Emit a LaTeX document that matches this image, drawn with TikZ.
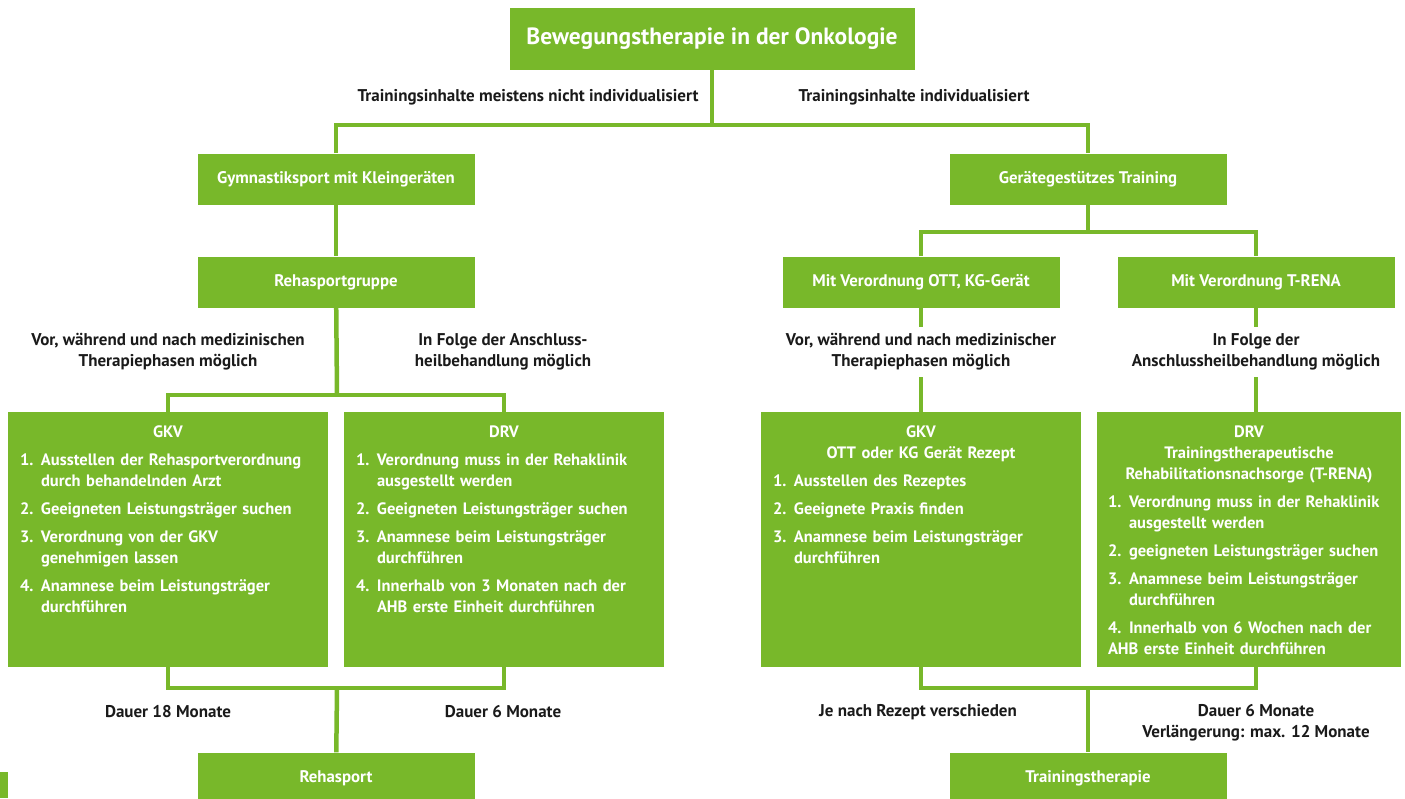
\documentclass[tikz,border=0pt]{standalone}
\usepackage{fontspec}
\setmainfont{PT Sans}
\usetikzlibrary{positioning}
\definecolor{bwgreen}{RGB}{120,184,42}
\definecolor{notetext}{RGB}{26,26,26}

\newcommand{\boxhead}[1]{\setlength{\parskip}{7pt}{\centering #1\par}}
\newcommand{\boxitem}[2]{\hangindent=21pt\hangafter=1\noindent\makebox[21pt][l]{#1}#2\par}

\tikzset{
  stage/.style={fill=bwgreen, text=white, font=\bfseries\fontsize{16.8}{20}\selectfont,
    minimum width=277pt, minimum height=51pt, inner sep=0pt},
  headline/.style={stage, font=\bfseries\fontsize{23.5}{28}\selectfont,
    minimum width=405pt, minimum height=62pt},
  panel/.style={fill=bwgreen, minimum width=320pt, minimum height=255pt, inner sep=0pt},
  steps/.style={text=white, font=\bfseries\fontsize{16.5}{21}\selectfont,
    text width=296pt, align=left, anchor=north, inner sep=0pt},
  remark/.style={text=notetext, font=\bfseries\fontsize{17}{21}\selectfont, align=center},
  gap/.style={fill=white, inner xsep=4pt, inner ysep=7pt},
  link/.style={draw=bwgreen, line width=4.5pt},
}

\begin{document}
\begin{tikzpicture}[x=1pt,y=-1pt]
  \clip (0,0) rectangle (1405,798);

  % boxes
  \node[headline] (title) at (712,39) {Bewegungstherapie in der Onkologie};
  \node[stage] (gym) at (336,179) {Gymnastiksport mit Kleingeräten};
  \node[stage] (geraet) at (1088,179) {Gerätegestützes Training};
  \node[stage] (rsg) at (336,282) {Rehasportgruppe};
  \node[stage] (ott) at (921,282) {Mit Verordnung OTT, KG-Gerät};
  \node[stage] (trena) at (1256,282) {Mit Verordnung T-RENA};
  \node[panel] (gkvL) at (168,539.5) {};
  \node[panel] (drvL) at (504,539.5) {};
  \node[panel] (gkvR) at (921,539.5) {};
  \node[panel, minimum width=304pt] (drvR) at (1249,539.5) {};
  \node[stage] (rehasport) at (336,778) {Rehasport};
  \node[stage] (training) at (1088,778) {Trainingstherapie};
  \fill[bwgreen] (0,772) rectangle (8,798);

  % connectors
  \coordinate (j1) at (712,125);
  \coordinate (j2) at (337,395);
  \coordinate (j3) at (337,688);
  \coordinate (j4) at (1088,232);
  \coordinate (j5) at (1088,688);
  \draw[link] (title) -- (j1);
  \draw[link] (gym) |- (j1) -| (geraet);
  \draw[link] (gym) -- (rsg);
  \draw[link] (rsg) -- (j2);
  \draw[link] (gkvL) |- (j2) -| (drvL);
  \draw[link] (gkvL) |- (j3) -| (drvL);
  \draw[link] (j3) -- (rehasport);
  \draw[link] (geraet) -- (j4);
  \draw[link] (ott) |- (j4) -| (trena);
  \draw[link] (ott) -- (gkvR);
  \draw[link] (trena) -- (trena |- drvR.north);
  \draw[link] (gkvR) |- (j5) -| (trena |- drvR.south);
  \draw[link] (j5) -- (training);

  % labels
  \node[remark, anchor=east] (nind) at (702,97) {Trainingsinhalte meistens nicht individualisiert};
  \node[remark, anchor=west] (ind) at (795,97) {Trainingsinhalte individualisiert};
  \node[remark] (phaseL) at (168,352) {Vor, während und nach medizinischen\\Therapiephasen möglich};
  \node[remark] (ahbL) at (503,352) {In Folge der Anschluss-\\heilbehandlung möglich};
  \node[remark, gap] (phaseR) at (921,352) {Vor, während und nach medizinischer\\Therapiephasen möglich};
  \node[remark, gap] (ahbR) at (1256,352) {In Folge der\\Anschlussheilbehandlung möglich};
  \node[remark] (d18) at (168,712) {Dauer 18 Monate};
  \node[remark] (d6) at (503,712) {Dauer 6 Monate};
  \node[remark] (rezept) at (918,712) {Je nach Rezept verschieden};
  \node[remark] (d6R) at (1256,722.5) {Dauer 6 Monate\\Verlängerung: max. 12 Monate};

  % panel contents
  \node[steps] (gkvLtext) at ([yshift=-14pt]gkvL.north) {\boxhead{GKV}
    \boxitem{1.}{Ausstellen der Rehasportverordnung\newline durch behandelnden Arzt}
    \boxitem{2.}{Geeigneten Leistungsträger suchen}
    \boxitem{3.}{Verordnung von der GKV\newline genehmigen lassen}
    \boxitem{4.}{Anamnese beim Leistungsträger\newline durchführen}};
  \node[steps] (drvLtext) at ([yshift=-14pt]drvL.north) {\boxhead{DRV}
    \boxitem{1.}{Verordnung muss in der Rehaklinik\newline ausgestellt werden}
    \boxitem{2.}{Geeigneten Leistungsträger suchen}
    \boxitem{3.}{Anamnese beim Leistungsträger\newline durchführen}
    \boxitem{4.}{Innerhalb von 3 Monaten nach der\newline AHB erste Einheit durchführen}};
  \node[steps] (gkvRtext) at ([yshift=-14pt]gkvR.north) {\boxhead{GKV\\OTT oder KG Gerät Rezept}
    \boxitem{1.}{Ausstellen des Rezeptes}
    \boxitem{2.}{Geeignete Praxis finden}
    \boxitem{3.}{Anamnese beim Leistungsträger\newline durchführen}};
  \node[steps, text width=282pt] (drvRtext) at ([yshift=-14pt]drvR.north) {\boxhead{DRV\\Trainingstherapeutische\\Rehabilitationsnachsorge (T-RENA)}
    \boxitem{1.}{Verordnung muss in der Rehaklinik\newline ausgestellt werden}
    \boxitem{2.}{geeigneten Leistungsträger suchen}
    \boxitem{3.}{Anamnese beim Leistungsträger\newline durchführen}
    \noindent\makebox[21pt][l]{4.}Innerhalb von 6 Wochen nach der\newline AHB erste Einheit durchführen\par};
\end{tikzpicture}
\end{document}
